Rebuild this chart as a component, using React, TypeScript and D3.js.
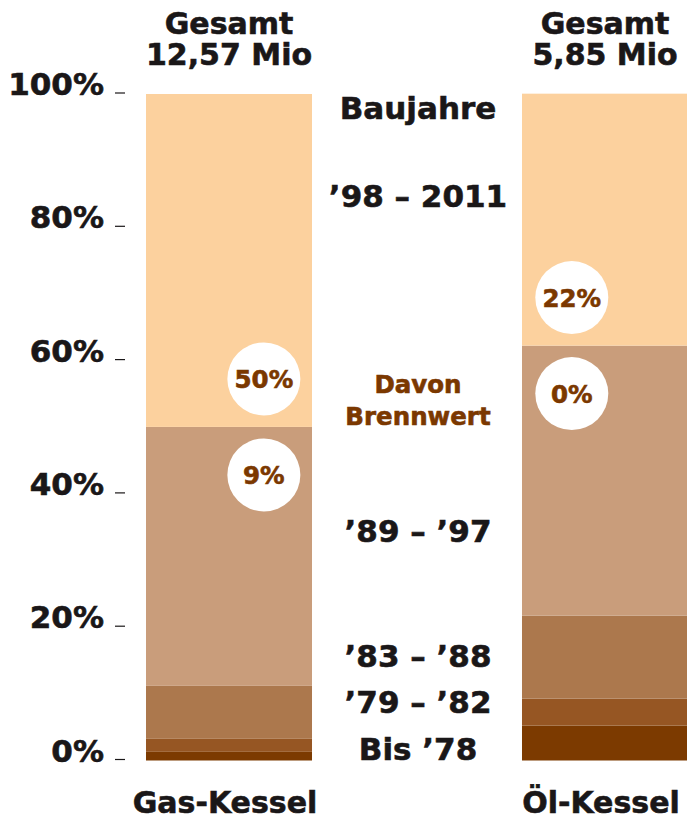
import React from "react";
import * as d3 from "d3";

const categories = ["Gas-Kessel", "Öl-Kessel"];
const totals = ["12,57 Mio", "5,85 Mio"];
const periods = ["Bis ’78", "’79 – ’82", "’83 – ’88", "’89 – ’97", "’98 – 2011"];
const gasShares = [1.3, 1.95, 7.95, 38.85, 49.95];
const oilShares = [5.25, 4.05, 12.45, 40.5, 37.8];
// condensing ("Brennwert") shares for '89–'97 and '98–2011
const gasCondensing = [9, 50];
const oilCondensing = [0, 22];
const yTicks = [0, 20, 40, 60, 80, 100];

const W = 687;
const H = 819;
const FONT = "'DejaVu Sans', Verdana, sans-serif";
const colors = ["#7C3A00", "#965623", "#AC784D", "#C99D7B", "#FCD19E"];
const dark = "#7B3800";
const ink = "#1a1718";

export default function App() {
  const y = d3.scaleLinear().domain([0, 100]).range([760.5, 94]);
  const x = d3
    .scaleBand<string>()
    .domain(categories)
    .range([146, 688])
    .paddingInner(0.5585)
    .paddingOuter(0);
  const bw = x.bandwidth();
  const shares = [gasShares, oilShares];
  const cond = [gasCondensing, oilCondensing];
  const circleFrac = [0.71, 0.3];
  const midX = 418;

  // baselines of the centre-column period labels
  const periodLabelY = [760, 713, 667, 542, 207];
  const heavy = (c: string) => ({ fill: c, stroke: c, strokeWidth: 0.6 });

  return (
    <svg
      width={W}
      height={H}
      style={{ position: "absolute", left: 0, top: 0, background: "#fff" }}
      fontFamily={FONT}
      fontWeight="bold"
    >
      {categories.map((c, ci) => {
        const stack = d3
          .stack<number[]>()
          .keys(d3.range(5) as any)
          .value((d, k) => d[k as any])([shares[ci]]);
        const x0 = x(c)!;
        const boundary = y(d3.sum(shares[ci].slice(0, 4)));
        const cx = x0 + bw * circleFrac[ci];
        return (
          <g key={c}>
            {stack.map((s, i) => (
              <rect
                key={i}
                x={x0}
                width={bw}
                y={y(s[0][1])}
                height={y(s[0][0]) - y(s[0][1])}
                fill={colors[i]}
              />
            ))}
            {[cond[ci][1], cond[ci][0]].map((v, k) => {
              const cy = boundary + (k === 0 ? -48 : 48);
              return (
                <g key={k}>
                  <circle cx={cx} cy={cy} r={36.5} fill="#fff" />
                  <text x={cx} y={cy + 9} textAnchor="middle" fontSize={24.5} {...heavy(dark)}>
                    {v}%
                  </text>
                </g>
              );
            })}
            <text x={x0 + bw / 2} y={34} textAnchor="middle" fontSize={30} {...heavy(ink)}>
              Gesamt
            </text>
            <text x={x0 + bw / 2} y={65} textAnchor="middle" fontSize={30} {...heavy(ink)}>
              {totals[ci]}
            </text>
            <text x={x0 + bw / 2 - 4} y={813} textAnchor="middle" fontSize={30} {...heavy(ink)}>
              {c}
            </text>
          </g>
        );
      })}

      {yTicks.map((t) => (
        <g key={t}>
          <text x={104} y={y(t) + 1} textAnchor="end" fontSize={31} {...heavy(ink)}>
            {t}%
          </text>
          <line x1={115} x2={125} y1={y(t) - 1} y2={y(t) - 1} stroke={ink} strokeWidth={1.2} />
        </g>
      ))}

      <text x={midX} y={119} textAnchor="middle" fontSize={31} {...heavy(ink)}>
        Baujahre
      </text>
      {periods.map((p, i) => (
        <text key={p} x={midX} y={periodLabelY[i]} textAnchor="middle" fontSize={31} {...heavy(ink)}>
          {p}
        </text>
      ))}
      <text x={midX} y={393} textAnchor="middle" fontSize={24.5} {...heavy(dark)}>
        Davon
      </text>
      <text x={midX} y={425} textAnchor="middle" fontSize={24.5} {...heavy(dark)}>
        Brennwert
      </text>
    </svg>
  );
}
